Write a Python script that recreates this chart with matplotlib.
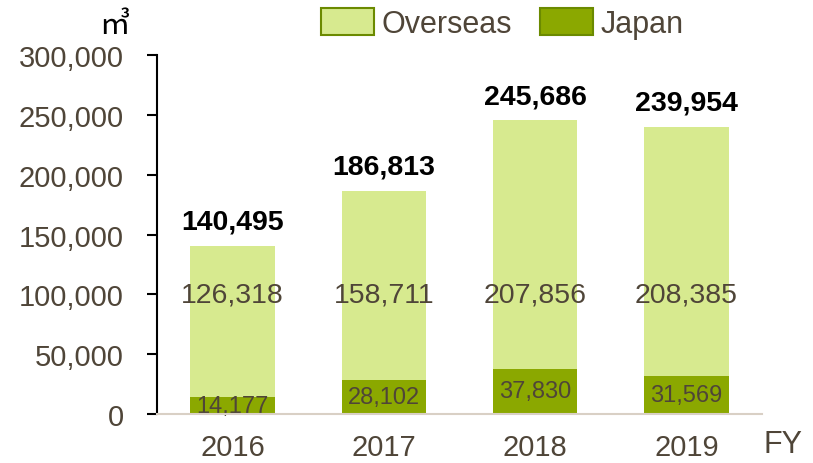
import matplotlib
matplotlib.use("Agg")
import matplotlib.pyplot as plt
from matplotlib.patches import Patch

plt.rcParams["font.family"] = ["Liberation Sans", "DejaVu Sans"]

YEARS = ["2016", "2017", "2018", "2019"]
JAPAN = [14177, 28102, 37830, 31569]
OVERSEAS = [126318, 158711, 207856, 208385]
TOTAL = [140495, 186813, 245686, 239954]

C_OVER = "#d7ea8f"
C_JAPAN = "#8ba800"
C_EDGE = "#6b8a00"
C_TEXT = "#4f4538"

fig = plt.figure(figsize=(8.13, 4.64), dpi=100)
ax = fig.add_axes([0.1931, 0.1056, 0.7442, 0.7734])

xs = list(range(len(YEARS)))
width = 0.56
ax.bar(xs, JAPAN, width, color=C_JAPAN, zorder=2)
ax.bar(xs, OVERSEAS, width, bottom=JAPAN, color=C_OVER, zorder=2)

# japan values centred in their segment
for x, v in zip(xs, JAPAN):
    ax.text(x, v / 2, f"{v:,}", ha="center", va="center",
            fontsize=17, color=C_TEXT, zorder=3)
# overseas values all at the same height
for x, v in zip(xs, OVERSEAS):
    ax.text(x, 100000, f"{v:,}", ha="center", va="center",
            fontsize=20.5, color=C_TEXT, zorder=3)
# totals above the bars
for x, v in zip(xs, TOTAL):
    ax.annotate(f"{v:,}", (x, v), xytext=(0, 8), textcoords="offset points",
                ha="center", va="bottom", fontsize=20.5, fontweight="bold",
                color="black")

ax.set_xlim(-0.5, 3.5)
ax.set_ylim(0, 300000)
ax.set_yticks(range(0, 300001, 50000))
ax.set_yticklabels([f"{t:,}" for t in range(0, 300001, 50000)])
ax.set_xticks(xs)
ax.set_xticklabels(YEARS)
ax.tick_params(axis="y", labelsize=21, labelcolor=C_TEXT, length=7,
               width=1.5, color="black", pad=17)
ax.tick_params(axis="x", labelsize=21, labelcolor=C_TEXT, length=0, pad=14)

for s in ("top", "right"):
    ax.spines[s].set_visible(False)
ax.spines["left"].set_linewidth(1.5)
ax.spines["left"].set_color("black")
ax.spines["bottom"].set_color("#d9d0c5")
ax.spines["bottom"].set_linewidth(1.5)
ax.spines["bottom"].set_zorder(4)

fig.text(0.141, 0.945, "㎥", fontsize=22, family=["Noto Sans CJK JP", "DejaVu Sans"],
         ha="center", va="center", color="black")
fig.text(0.963, 0.04, "FY", fontsize=22, color=C_TEXT, ha="center", va="center")

handles = [Patch(facecolor=C_OVER, edgecolor=C_EDGE, linewidth=1.5, label="Overseas"),
           Patch(facecolor=C_JAPAN, edgecolor=C_EDGE, linewidth=1.5, label="Japan")]
leg = fig.legend(handles=handles, loc="center", bbox_to_anchor=(0.618, 0.948), ncol=2,
                 frameon=False, fontsize=22, handlelength=1.75, handleheight=1.0,
                 handletextpad=0.25, columnspacing=0.9, borderaxespad=0)
for t in leg.get_texts():
    t.set_color(C_TEXT)

fig.savefig("out.png", dpi=100)
